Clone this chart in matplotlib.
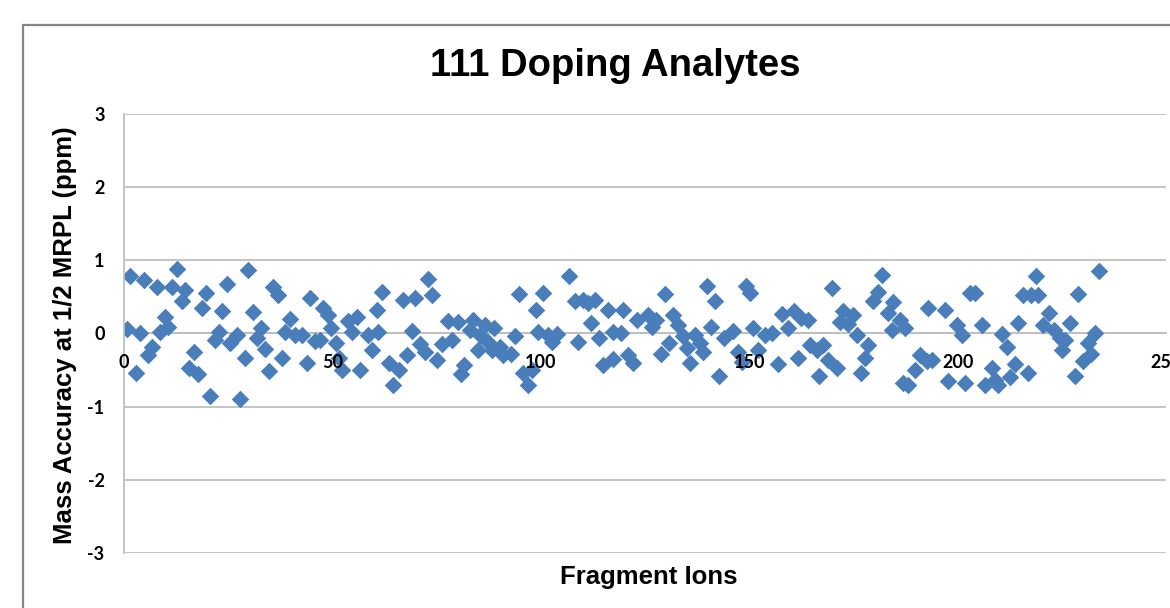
import numpy as np
import matplotlib.pyplot as plt
from matplotlib.patches import Rectangle

plt.rcParams['axes.unicode_minus'] = False

# fragment ion index and mass accuracy (ppm) at 1/2 MRPL
ion = [1.4, 4.9, 7.8, 12.6, 11.6, 14.6, 13.8, 19.7, 18.8, 24.6, 23.6, 29.8, 30.9, 35.8,
       37.0, 44.6, 47.8, 48.9, 53.7, 55.8, 60.6, 62.0, 0.6, 3.8, 8.6, 9.8, 10.6, 5.8,
       6.8, 2.8, 16.8, 15.6, 17.8, 20.6, 27.8, 21.8, 22.8, 25.4, 27.0, 29.0, 31.8, 32.8,
       33.8, 34.9, 37.8, 38.6, 39.8, 41.0, 42.6, 43.8, 45.8, 47.0, 49.7, 50.8, 51.6, 52.2,
       56.6, 54.8, 58.6, 59.4, 61.0, 63.6, 66.0, 64.6, 67.0, 69.8, 73.0, 74.0, 69.0, 68.0,
       71.0, 72.2, 75.0, 76.2, 78.8, 77.7, 80.1, 81.6, 80.9, 83.8, 83.0, 86.6, 85.4, 88.8,
       87.4, 85.0, 88.2, 90.2, 91.0, 92.9, 93.8, 94.8, 98.8, 100.6, 99.4, 101.8, 102.6, 103.8,
       95.8, 96.9, 97.8, 106.8, 108.2, 110.0, 111.4, 113.0, 116.0, 119.8, 123.0, 112.0, 108.9, 114.0,
       117.4, 119.2, 115.0, 117.2, 120.8, 122.2, 125.8, 127.6, 126.6, 129.8, 131.8, 133.0, 128.8, 130.8,
       134.2, 135.0, 137.0, 138.2, 139.0, 135.8, 139.8, 141.8, 140.8, 144.0, 146.2, 142.8, 147.2, 148.2,
       149.2, 150.2, 151.0, 152.0, 153.8, 155.4, 157.0, 157.8, 159.4, 160.8, 162.4, 164.0, 161.8, 164.6,
       166.2, 167.8, 166.7, 169.0, 171.0, 169.8, 171.8, 172.6, 175.0, 173.8, 175.8, 178.6, 177.8, 176.8,
       181.8, 180.8, 179.8, 183.4, 184.6, 184.2, 186.2, 187.4, 193.0, 197.0, 199.8, 201.0, 203.0, 204.2,
       205.9, 210.7, 211.8, 214.6, 215.8, 217.6, 219.4, 218.7, 221.9, 220.6, 223.2, 224.6, 225.8, 225.0,
       227.0, 228.8, 233.9, 233.0, 231.2, 232.0, 230.2, 228.2, 191.0, 189.8, 192.6, 193.8, 188.2, 197.8,
       201.8, 206.6, 208.2, 209.8, 209.0, 212.6, 213.8, 217.0, 186.9]
ppm = [0.78, 0.73, 0.63, 0.88, 0.64, 0.60, 0.44, 0.56, 0.35, 0.67, 0.31, 0.87, 0.29, 0.64,
       0.53, 0.49, 0.35, 0.25, 0.17, 0.22, 0.32, 0.57, 0.06, 0.00, 0.02, 0.22, 0.09, -0.29,
       -0.18, -0.54, -0.25, -0.47, -0.56, -0.85, -0.89, -0.09, 0.02, -0.13, -0.02, -0.34, -0.06, 0.08,
       -0.21, -0.51, -0.34, 0.02, 0.20, -0.02, -0.02, -0.41, -0.10, -0.09, 0.08, -0.13, -0.34, -0.50,
       -0.50, 0.02, -0.02, -0.22, 0.02, -0.41, -0.50, -0.70, 0.46, 0.48, 0.75, 0.52, 0.04, -0.30,
       -0.15, -0.25, -0.36, -0.15, -0.09, 0.17, 0.16, -0.43, -0.56, 0.19, 0.05, 0.12, -0.02, 0.07,
       -0.11, -0.22, -0.22, -0.18, -0.29, -0.28, -0.03, 0.54, 0.32, 0.55, 0.02, -0.02, -0.12, -0.01,
       -0.54, -0.70, -0.50, 0.78, 0.44, 0.46, 0.41, 0.46, 0.32, 0.32, 0.19, 0.14, -0.12, -0.06,
       0.02, 0.00, -0.43, -0.35, -0.29, -0.41, 0.25, 0.19, 0.09, 0.54, 0.25, 0.12, -0.28, -0.13,
       -0.04, -0.20, -0.02, -0.13, -0.25, -0.41, 0.65, 0.44, 0.09, -0.06, 0.04, -0.58, -0.25, -0.39,
       0.65, 0.56, 0.08, -0.22, -0.02, 0.00, -0.42, 0.26, 0.07, 0.31, 0.21, 0.19, -0.33, -0.16,
       -0.22, -0.16, -0.58, -0.36, -0.47, 0.62, 0.16, 0.31, 0.25, 0.13, -0.02, -0.16, -0.34, -0.54,
       0.80, 0.57, 0.44, 0.28, 0.43, 0.05, 0.19, 0.07, 0.35, 0.32, 0.12, -0.02, 0.55, 0.56,
       0.11, -0.01, -0.18, 0.14, 0.52, 0.53, 0.53, 0.78, 0.28, 0.12, 0.05, -0.06, -0.09, -0.22,
       0.14, 0.54, 0.85, 0.00, -0.13, -0.28, -0.38, -0.58, -0.29, -0.50, -0.37, -0.36, -0.71, -0.65,
       -0.68, -0.71, -0.47, -0.70, -0.63, -0.60, -0.42, -0.54, -0.68]

xticks = [0, 50, 100, 150, 200, 250]
yticks = [-3, -2, -1, 0, 1, 2, 3]

fig = plt.figure(figsize=(11.7, 6.08), dpi=100)
ax = fig.add_axes([0.106, 0.0905, 0.8906, 0.722])

ax.scatter(ion, ppm, marker='D', s=80, color='#4A7EBB', linewidths=0, zorder=2)

ax.set_xlim(0, 250)
ax.set_ylim(-3, 3)
ax.set_xticks(xticks)
ax.set_yticks(yticks)

ax.set_axisbelow(True)
ax.yaxis.grid(True, color='#BFBFBF', lw=1.3)
ax.xaxis.set_zorder(3)   # tick labels sit over the markers

ax.spines['top'].set_visible(False)
ax.spines['right'].set_visible(False)
ax.spines['bottom'].set_position(('data', 0))
ax.spines['bottom'].set_zorder(0.5)
for s in ['bottom', 'left']:
    ax.spines[s].set_color('#BFBFBF')
    ax.spines[s].set_linewidth(1.3)

ax.tick_params(length=0)
ax.tick_params(axis='x', pad=15)
ax.tick_params(axis='y', pad=14)
for lab in ax.get_xticklabels() + ax.get_yticklabels():
    lab.set_family('Lato')
    lab.set_fontweight('bold')
    lab.set_fontsize(13)

fig.text(615/1170, 1-66/608, '111 Doping Analytes', family='Liberation Sans',
         fontweight='bold', fontsize=27.5, ha='center', va='center')
fig.text(65/1170, 1-335/608, 'Mass Accuracy at 1/2 MRPL (ppm)', family='Liberation Sans',
         fontweight='bold', fontsize=18.5, rotation=90, ha='center', va='center')
fig.text(649/1170, 1-577/608, 'Fragment Ions', family='Liberation Sans',
         fontweight='bold', fontsize=18.5, ha='center', va='center')

# chart area frame
fig.patches.append(Rectangle((23/1170, -0.1), 1.2, 1-25/608+0.1, transform=fig.transFigure,
                             fill=False, ec='#868686', lw=1.6))

fig.savefig('out.png', dpi=100)
